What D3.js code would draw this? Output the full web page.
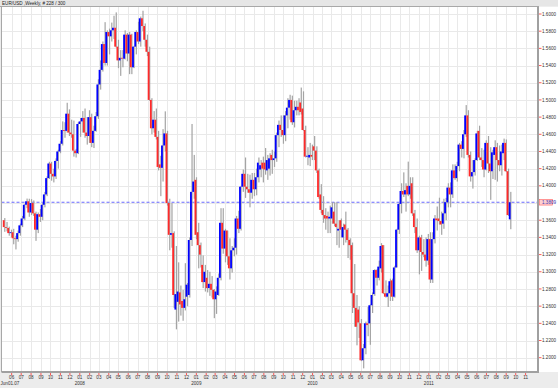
<!DOCTYPE html>
<html lang="en">
<head>
<meta charset="utf-8">
<script src="https://d3js.org/d3.v7.min.js"></script>
<style>
  html, body { margin: 0; padding: 0; background: #ececec; }
  svg { display: block; }
  text { font-family: "Liberation Sans", Arial, sans-serif; }
</style>
</head>
<body>
<script>
// EUR/USD weekly candles, May 2007 - Sep 2011
const title = "EUR/USD ,Weekly, # 228 / 300";
const firstWeek = new Date(2007, 4, 8);
const lastPrice = 1.3809;

const opens = [
  1.3600,1.3520,1.3510,1.3450,1.3460,1.3390,1.3380,1.3450,1.3540,1.3620,
  1.3780,1.3820,1.3690,1.3800,1.3680,1.3490,1.3670,1.3640,1.3780,1.3900,
  1.4090,1.4260,1.4140,1.4110,1.4290,1.4400,1.4490,1.4650,1.4640,1.4840,
  1.4620,1.4600,1.4410,1.4380,1.4720,1.4750,1.4790,1.4620,1.4580,1.4800,
  1.4500,1.4640,1.4810,1.5180,1.5350,1.5650,1.5430,1.5790,1.5740,1.5810,
  1.5840,1.5620,1.5460,1.5490,1.5480,1.5760,1.5540,1.5760,1.5380,1.5620,
  1.5790,1.5680,1.5950,1.5860,1.5700,1.5560,1.5000,1.4670,1.4770,1.4570,
  1.4250,1.4210,1.4470,1.4610,1.3800,1.3430,1.3450,1.2560,1.2650,1.2760,
  1.2660,1.2580,1.2710,1.2730,1.3370,1.3930,1.4070,1.3460,1.3310,1.3080,
  1.2880,1.2930,1.2810,1.2860,1.2790,1.2680,1.2730,1.2930,1.3570,1.3270,
  1.3480,1.3180,1.3040,1.3250,1.3280,1.3620,1.3500,1.3990,1.4140,1.3990,
  1.3960,1.3920,1.4070,1.3960,1.4100,1.4190,1.4270,1.4270,1.4180,1.4200,
  1.4360,1.4300,1.4320,1.4590,1.4710,1.4650,1.4590,1.4820,1.4910,1.5000,
  1.4740,1.4880,1.4920,1.4970,1.4900,1.4650,1.4340,1.4330,1.4360,1.4460,
  1.4410,1.4180,1.3900,1.3720,1.3660,1.3650,1.3620,1.3620,1.3700,1.3560,
  1.3480,1.3600,1.3400,1.3550,1.3490,1.3370,1.3310,1.2750,1.2580,1.2560,
  1.2400,1.1970,1.2110,1.2400,1.2400,1.2610,1.2740,1.3020,1.2930,1.3040,
  1.3310,1.2750,1.2710,1.2750,1.2900,1.2710,1.3050,1.3490,1.3790,1.3940,
  1.3900,1.4000,1.3900,1.4030,1.3680,1.3520,1.3250,1.3400,1.3230,1.3200,
  1.3130,1.3380,1.2910,1.3380,1.3620,1.3620,1.3590,1.3560,1.3680,1.3810,
  1.3980,1.3900,1.4180,1.4090,1.4230,1.4480,1.4430,1.4600,1.4820,1.4360,
  1.4110,1.4160,1.4300,1.4640,1.4330,1.4300,1.4190,1.4500,1.4260,1.4170,
  1.4360,1.4450,1.4300,1.4240,1.4380,1.4500,1.4170,1.3610
];
const highs = [
  1.3625,1.3580,1.3525,1.3490,1.3500,1.3420,1.3480,1.3560,1.3650,1.3790,
  1.3852,1.3850,1.3845,1.3830,1.3700,1.3690,1.3730,1.3800,1.3930,1.4110,
  1.4280,1.4280,1.4200,1.4320,1.4420,1.4520,1.4750,1.4740,1.4967,1.4890,
  1.4770,1.4760,1.4430,1.4740,1.4790,1.4870,1.4900,1.4800,1.4880,1.4840,
  1.4700,1.4860,1.5240,1.5460,1.5680,1.5905,1.5810,1.5830,1.5900,1.5980,
  1.6019,1.5700,1.5580,1.5580,1.5810,1.5780,1.5790,1.5770,1.5630,1.5810,
  1.5910,1.5970,1.6038,1.5890,1.5760,1.5620,1.5020,1.4870,1.4900,1.4640,
  1.4350,1.4660,1.4867,1.4640,1.3850,1.3800,1.3470,1.3300,1.3110,1.2840,
  1.2790,1.3100,1.2870,1.3400,1.4720,1.4360,1.4100,1.3570,1.3340,1.3190,
  1.3080,1.3020,1.3000,1.2950,1.2800,1.2830,1.2980,1.3740,1.3740,1.3500,
  1.3480,1.3390,1.3300,1.3390,1.3650,1.3710,1.4000,1.4190,1.4330,1.4140,
  1.4130,1.4150,1.4150,1.4200,1.4330,1.4300,1.4340,1.4440,1.4360,1.4380,
  1.4420,1.4400,1.4620,1.4760,1.4820,1.4820,1.4870,1.5020,1.5060,1.5050,
  1.4990,1.4990,1.5020,1.5144,1.5100,1.4700,1.4450,1.4500,1.4480,1.4580,
  1.4460,1.4200,1.4020,1.3880,1.3740,1.3700,1.3770,1.3810,1.3810,1.3810,
  1.3600,1.3620,1.3560,1.3700,1.3510,1.3390,1.3340,1.3090,1.2730,1.2600,
  1.2450,1.2160,1.2420,1.2590,1.2620,1.2760,1.3030,1.3030,1.3130,1.3333,
  1.3310,1.2900,1.2840,1.2920,1.2920,1.3070,1.3500,1.3800,1.4030,1.4157,
  1.4030,1.4282,1.4100,1.4100,1.3720,1.3620,1.3420,1.3430,1.3380,1.3400,
  1.3440,1.3460,1.3460,1.3660,1.3760,1.3862,1.3700,1.3850,1.3860,1.4030,
  1.4040,1.4250,1.4250,1.4280,1.4500,1.4520,1.4650,1.4940,1.4880,1.4400,
  1.4300,1.4320,1.4640,1.4700,1.4440,1.4420,1.4530,1.4580,1.4450,1.4420,
  1.4530,1.4500,1.4470,1.4480,1.4550,1.4540,1.4200,1.3930
];
const lows = [
  1.3465,1.3470,1.3420,1.3400,1.3320,1.3260,1.3350,1.3420,1.3520,1.3600,
  1.3740,1.3640,1.3660,1.3650,1.3360,1.3450,1.3580,1.3600,1.3750,1.3880,
  1.4080,1.4060,1.4040,1.4080,1.4200,1.4380,1.4470,1.4560,1.4620,1.4580,
  1.4560,1.4340,1.4330,1.4370,1.4570,1.4620,1.4560,1.4480,1.4500,1.4450,
  1.4440,1.4630,1.4780,1.5120,1.5330,1.5400,1.5400,1.5530,1.5680,1.5710,
  1.5610,1.5370,1.5280,1.5380,1.5470,1.5450,1.5300,1.5300,1.5370,1.5530,
  1.5650,1.5620,1.5800,1.5620,1.5510,1.4990,1.4600,1.4620,1.4540,1.4180,
  1.3880,1.4050,1.4400,1.3770,1.3250,1.3280,1.2580,1.2330,1.2420,1.2490,
  1.2430,1.2550,1.2600,1.2700,1.3300,1.3850,1.3380,1.3040,1.3050,1.2810,
  1.2770,1.2760,1.2720,1.2700,1.2460,1.2510,1.2720,1.2900,1.3210,1.3110,
  1.3080,1.2910,1.2990,1.3180,1.3200,1.3450,1.3480,1.3930,1.3860,1.3920,
  1.3750,1.3850,1.3880,1.3890,1.4040,1.4100,1.4040,1.4130,1.4070,1.4120,
  1.4140,1.4220,1.4280,1.4450,1.4570,1.4490,1.4520,1.4670,1.4770,1.4710,
  1.4680,1.4820,1.4820,1.4830,1.4640,1.4330,1.4240,1.4230,1.4300,1.4300,
  1.4150,1.3850,1.3680,1.3570,1.3490,1.3450,1.3450,1.3560,1.3530,1.3310,
  1.3280,1.3400,1.3310,1.3340,1.3160,1.3140,1.2520,1.2360,1.2144,1.2230,
  1.1960,1.1876,1.2040,1.2250,1.2150,1.2520,1.2720,1.2840,1.2900,1.2990,
  1.2740,1.2700,1.2590,1.2660,1.2660,1.2700,1.3050,1.3440,1.3680,1.3870,
  1.3700,1.3880,1.3850,1.3650,1.3450,1.3220,1.2970,1.3010,1.3170,1.3060,
  1.3080,1.2870,1.2870,1.3330,1.3480,1.3550,1.3430,1.3500,1.3600,1.3750,
  1.3750,1.3860,1.4070,1.4050,1.4170,1.4330,1.4320,1.4570,1.4330,1.4050,
  1.3968,1.4120,1.4290,1.4300,1.4220,1.4100,1.4180,1.4150,1.3837,1.4080,
  1.4070,1.4050,1.4170,1.4120,1.4300,1.4160,1.3650,1.3495
];
const closes = [
  1.3520,1.3510,1.3450,1.3460,1.3390,1.3380,1.3450,1.3540,1.3620,1.3780,
  1.3820,1.3690,1.3800,1.3680,1.3490,1.3670,1.3640,1.3780,1.3900,1.4090,
  1.4260,1.4140,1.4110,1.4290,1.4400,1.4490,1.4650,1.4640,1.4840,1.4620,
  1.4600,1.4410,1.4380,1.4720,1.4750,1.4790,1.4620,1.4580,1.4800,1.4500,
  1.4640,1.4810,1.5180,1.5350,1.5650,1.5430,1.5790,1.5740,1.5810,1.5840,
  1.5620,1.5460,1.5490,1.5480,1.5760,1.5540,1.5760,1.5380,1.5620,1.5790,
  1.5680,1.5950,1.5860,1.5700,1.5560,1.5000,1.4670,1.4770,1.4570,1.4220,
  1.4210,1.4470,1.4610,1.3800,1.3430,1.3450,1.2730,1.2740,1.2770,1.2620,
  1.2580,1.2680,1.2850,1.3370,1.3930,1.4050,1.3430,1.3310,1.3200,1.2880,
  1.3000,1.2810,1.2860,1.2790,1.2680,1.2770,1.2930,1.3570,1.3270,1.3480,
  1.3180,1.3040,1.3250,1.3280,1.3620,1.3500,1.3990,1.4140,1.3990,1.3960,
  1.3920,1.4070,1.3960,1.4100,1.4270,1.4240,1.4200,1.4190,1.4300,1.4320,
  1.4300,1.4320,1.4590,1.4710,1.4650,1.4590,1.4820,1.4910,1.5000,1.4740,
  1.4880,1.4920,1.4880,1.4860,1.4650,1.4340,1.4350,1.4360,1.4340,1.4410,
  1.4180,1.3870,1.3720,1.3660,1.3620,1.3620,1.3640,1.3750,1.3560,1.3520,
  1.3500,1.3490,1.3520,1.3490,1.3370,1.3310,1.2750,1.2580,1.2360,1.2410,
  1.1970,1.2110,1.2400,1.2380,1.2610,1.2730,1.3020,1.2930,1.3060,1.3300,
  1.2750,1.2710,1.2750,1.2890,1.2710,1.3050,1.3490,1.3790,1.3940,1.3900,
  1.3950,1.3900,1.4000,1.3680,1.3520,1.3250,1.3400,1.3230,1.3200,1.3130,
  1.3380,1.2910,1.3380,1.3620,1.3600,1.3590,1.3550,1.3680,1.3810,1.3980,
  1.3900,1.4180,1.4090,1.4230,1.4480,1.4430,1.4600,1.4820,1.4360,1.4110,
  1.4160,1.4300,1.4610,1.4330,1.4300,1.4190,1.4500,1.4260,1.4170,1.4390,
  1.4450,1.4300,1.4240,1.4400,1.4500,1.4170,1.3660,1.3809
];

// price grid / labels on the right
const priceTicks = [1.20, 1.22, 1.24, 1.26, 1.28, 1.30, 1.32, 1.34, 1.36, 1.38,
                    1.40, 1.42, 1.44, 1.46, 1.48, 1.50, 1.52, 1.54, 1.56, 1.58, 1.60];
const monthStart = new Date(2007, 5, 1);
const monthEnd = new Date(2011, 11, 1);
const startLabel = "Jun01.07";

document.addEventListener("DOMContentLoaded", function() {
  const width = 558, height = 388;
  const plot = {left: 1.5, top: 6.5, right: 538, bottom: 372};

  const svg = d3.select("body").append("svg")
      .attr("width", width)
      .attr("height", height);

  // backgrounds
  svg.append("rect").attr("width", width).attr("height", height).attr("fill", "#ececec");
  svg.append("rect")
      .attr("x", plot.left).attr("y", plot.top)
      .attr("width", width - plot.left).attr("height", plot.bottom - plot.top)
      .attr("fill", "#ffffff");

  const data = closes.map((c, i) => ({
    date: d3.timeDay.offset(firstWeek, 7 * i),
    open: opens[i], high: highs[i], low: lows[i], close: c
  }));

  const x = d3.scaleTime()
      .domain([firstWeek, data[data.length - 1].date])
      .range([4, 510]);
  const y = d3.scaleLinear()
      .domain([1.2, 1.6])
      .range([357.7, 14]);

  const months = d3.timeMonth.range(monthStart, monthEnd);

  // grid
  const grid = svg.append("g").attr("stroke", "#e9e9e9").attr("stroke-width", 1);
  grid.selectAll("line.h").data(priceTicks).join("line")
      .attr("class", "h")
      .attr("x1", plot.left).attr("x2", plot.right)
      .attr("y1", d => Math.round(y(d)) + 0.5).attr("y2", d => Math.round(y(d)) + 0.5);
  grid.selectAll("line.v").data(months).join("line")
      .attr("class", "v")
      .attr("y1", plot.top).attr("y2", plot.bottom)
      .attr("x1", d => Math.round(x(d)) + 0.5).attr("x2", d => Math.round(x(d)) + 0.5);

  // current price line
  svg.append("line")
      .attr("x1", plot.left).attr("x2", plot.right)
      .attr("y1", y(lastPrice)).attr("y2", y(lastPrice))
      .attr("stroke", "#6a6aff").attr("stroke-width", 1)
      .attr("stroke-dasharray", "3,2");

  // candles: grey high-low bar, coloured open-close body beside it
  const bars = svg.append("g");
  bars.selectAll("rect.wick").data(data).join("rect")
      .attr("class", "wick")
      .attr("x", d => x(d.date) + 0.2)
      .attr("width", 1.2)
      .attr("y", d => y(d.high))
      .attr("height", d => y(d.low) - y(d.high))
      .attr("fill", "#a4a4a4");
  bars.selectAll("rect.body").data(data).join("rect")
      .attr("class", "body")
      .attr("x", d => x(d.date) - 1.2)
      .attr("width", 1.8)
      .attr("y", d => y(Math.max(d.open, d.close)))
      .attr("height", d => Math.max(0.8, Math.abs(y(d.open) - y(d.close))))
      .attr("fill", d => d.close > d.open ? "#0000ff" : "#ff2a2a");

  // frame
  svg.append("rect").attr("width", width).attr("height", plot.top).attr("fill", "#e6e6e6");
  svg.append("line").attr("x1", 0).attr("x2", plot.right + 1)
      .attr("y1", plot.top).attr("y2", plot.top)
      .attr("stroke", "#a8a8a8").attr("stroke-width", 1);
  svg.append("line").attr("x1", plot.left).attr("x2", plot.left)
      .attr("y1", plot.top).attr("y2", plot.bottom)
      .attr("stroke", "#a8a8a8").attr("stroke-width", 1);
  svg.append("line").attr("x1", plot.right).attr("x2", plot.right)
      .attr("y1", plot.top).attr("y2", plot.bottom + 1)
      .attr("stroke", "#a0a0a0").attr("stroke-width", 2);
  svg.append("line").attr("x1", plot.left).attr("x2", plot.right + 1)
      .attr("y1", plot.bottom).attr("y2", plot.bottom)
      .attr("stroke", "#a0a0a0").attr("stroke-width", 2);

  svg.append("text")
      .attr("x", 2).attr("y", 5)
      .attr("font-size", 4.6).attr("fill", "#222")
      .text(title);

  // right axis
  const yAxis = svg.append("g");
  const shown = priceTicks.filter(d => Math.abs(d - lastPrice) > 0.005);
  yAxis.selectAll("line").data(shown).join("line")
      .attr("x1", plot.right + 1).attr("x2", plot.right + 3.5)
      .attr("y1", d => y(d)).attr("y2", d => y(d))
      .attr("stroke", "#ff3030").attr("stroke-width", 0.8);
  yAxis.selectAll("text").data(shown).join("text")
      .attr("x", plot.right + 4)
      .attr("y", d => y(d) + 1.6)
      .attr("font-size", 4.6).attr("fill", "#333")
      .text(d => d3.format(".4f")(d));

  svg.append("rect")
      .attr("x", plot.right + 1.5).attr("y", y(lastPrice) - 2.8)
      .attr("width", 13).attr("height", 5.6)
      .attr("fill", "#ffd0d0").attr("stroke", "#ff6060").attr("stroke-width", 0.6);
  svg.append("text")
      .attr("x", plot.right + 4).attr("y", y(lastPrice) + 1.6)
      .attr("font-size", 4.6).attr("fill", "#3a3ab0")
      .text(d3.format(".4f")(lastPrice));

  // bottom axis
  const xAxis = svg.append("g");
  xAxis.selectAll("line").data(months).join("line")
      .attr("x1", d => x(d)).attr("x2", d => x(d))
      .attr("y1", plot.bottom + 1).attr("y2", plot.bottom + 3.5)
      .attr("stroke", "#ff3030").attr("stroke-width", 0.8);
  xAxis.selectAll("text.m").data(months).join("text")
      .attr("class", "m")
      .attr("x", d => x(d)).attr("y", 378.5)
      .attr("text-anchor", "middle")
      .attr("font-size", 4.6).attr("fill", "#333")
      .text(d3.timeFormat("%m"));
  xAxis.selectAll("text.yr").data(months.filter(d => d.getMonth() === 0)).join("text")
      .attr("class", "yr")
      .attr("x", d => x(d)).attr("y", 385)
      .attr("text-anchor", "middle")
      .attr("font-size", 4.6).attr("fill", "#333")
      .text(d3.timeFormat("%Y"));
  xAxis.append("text")
      .attr("x", 0.5).attr("y", 385)
      .attr("font-size", 4.6).attr("fill", "#333")
      .text(startLabel);
});
</script>
</body>
</html>
